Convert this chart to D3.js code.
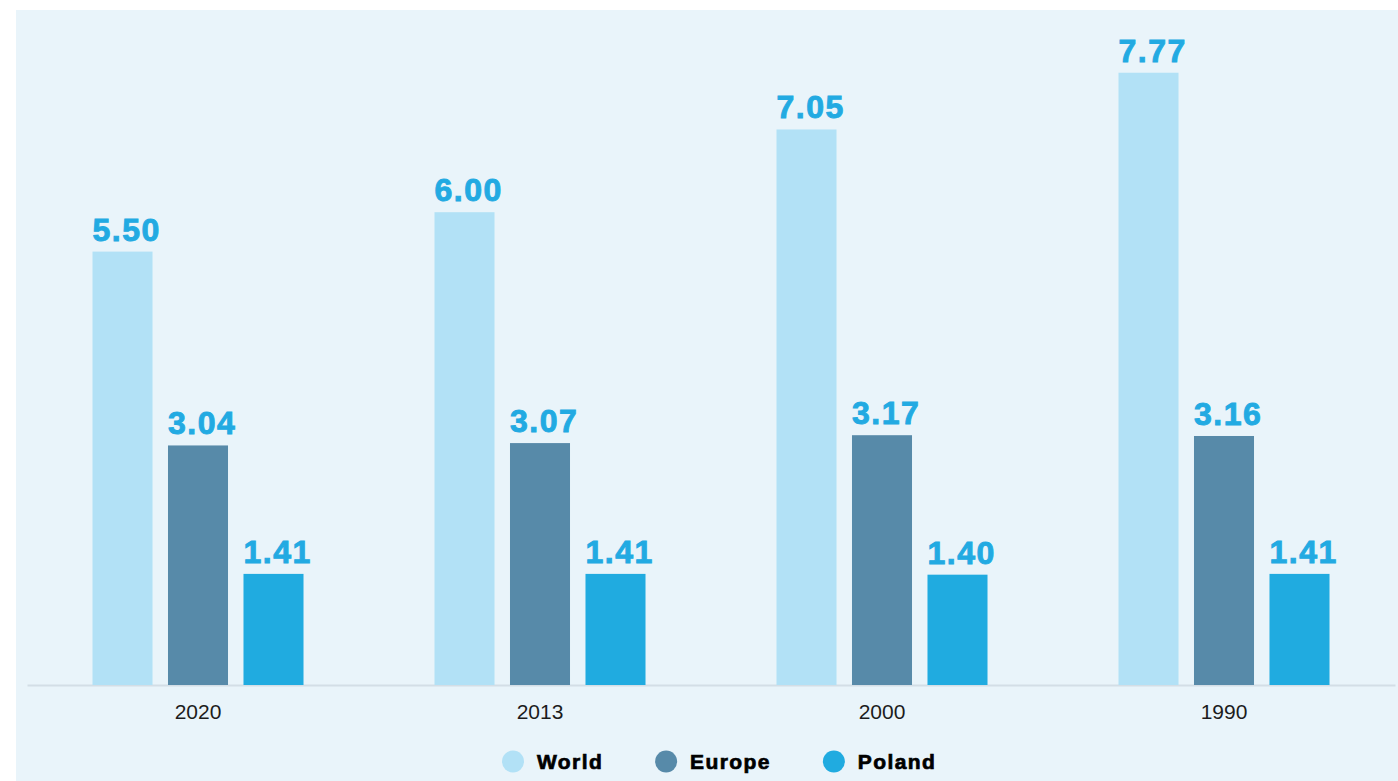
<!DOCTYPE html>
<html>
<head>
<meta charset="utf-8">
<script src="https://cdn.jsdelivr.net/npm/d3@7"></script>
<style>
  html, body { margin: 0; padding: 0; background: #fff; }
  #chart { width: 1398px; height: 781px; }
</style>
</head>
<body>
<div id="chart"></div>
<script>
// Data
const years = ["2020", "2013", "2000", "1990"];
const seriesNames = ["World", "Europe", "Poland"];
const world = [5.50, 6.00, 7.05, 7.77];
const europe = [3.04, 3.07, 3.17, 3.16];
const poland = [1.41, 1.41, 1.40, 1.41];
const colors = ["#b2e1f6", "#578aa9", "#20abe0"];

const width = 1398, height = 781;
const svg = d3.select("#chart").append("svg")
    .attr("width", width)
    .attr("height", height);

// Light blue panel
svg.append("rect")
    .attr("x", 16).attr("y", 10)
    .attr("width", width - 16).attr("height", height - 10)
    .attr("fill", "#e9f4fa");

const baseline = 685;
const x0 = d3.scaleBand()
    .domain(years)
    .range([27, 1395])
    .paddingInner(0.383)
    .paddingOuter(0.1915);

const x1 = d3.scaleBand()
    .domain(seriesNames)
    .range([0, x0.bandwidth()])
    .paddingInner(0.205)
    .paddingOuter(0);

const y = d3.scaleLinear()
    .domain([0, 8])
    .range([baseline, baseline - 630.4]);

const rows = years.map((yr, i) => ({
    year: yr,
    values: [world[i], europe[i], poland[i]].map((v, j) => ({ key: seriesNames[j], value: v, color: colors[j] }))
}));

// Axis along the bottom
const xAxis = d3.axisBottom(x0).tickSize(0).tickPadding(19);
const axisG = svg.append("g")
    .attr("transform", `translate(0,${baseline})`)
    .call(xAxis);
axisG.select(".domain").attr("stroke", "#d3dee6").attr("stroke-width", 2);
axisG.selectAll("text")
    .style("font-family", "'Liberation Sans', Arial, sans-serif")
    .style("font-size", "21px")
    .attr("fill", "#1c1c1c");

const groups = svg.selectAll(".group")
    .data(rows)
    .enter()
    .append("g")
    .attr("class", "group")
    .attr("transform", d => `translate(${x0(d.year)},0)`);

groups.selectAll("rect")
    .data(d => d.values)
    .enter()
    .append("rect")
    .attr("x", d => x1(d.key))
    .attr("y", d => y(d.value))
    .attr("width", x1.bandwidth())
    .attr("height", d => baseline - y(d.value))
    .attr("fill", d => d.color);

groups.selectAll(".val")
    .data(d => d.values)
    .enter()
    .append("text")
    .attr("class", "val")
    .attr("x", d => x1(d.key))
    .attr("y", d => y(d.value) - 11)
    .style("font-family", "'Liberation Sans', Arial, sans-serif")
    .style("font-weight", "bold")
    .style("font-size", "32px")
    .style("letter-spacing", "1.5px")
    .attr("fill", "#22aae2")
    .attr("stroke", "#22aae2")
    .attr("stroke-width", 0.9)
    .text(d => d.value.toFixed(2));

// Legend
const legend = svg.append("g").attr("class", "legend");
let lx = 502;
seriesNames.forEach((name, i) => {
    const item = legend.append("g").attr("transform", `translate(${lx},0)`);
    item.append("circle")
        .attr("cx", 11).attr("cy", 761.5).attr("r", 11)
        .attr("fill", colors[i]);
    const t = item.append("text")
        .attr("x", 35).attr("y", 769)
        .style("font-family", "'Liberation Sans', Arial, sans-serif")
        .style("font-weight", "bold")
        .style("font-size", "21px")
        .style("letter-spacing", "1.4px")
        .attr("fill", "#000")
        .attr("stroke", "#000")
        .attr("stroke-width", 0.7)
        .text(name);
    lx += 35 + t.node().getComputedTextLength() + 52;
});
</script>
</body>
</html>
